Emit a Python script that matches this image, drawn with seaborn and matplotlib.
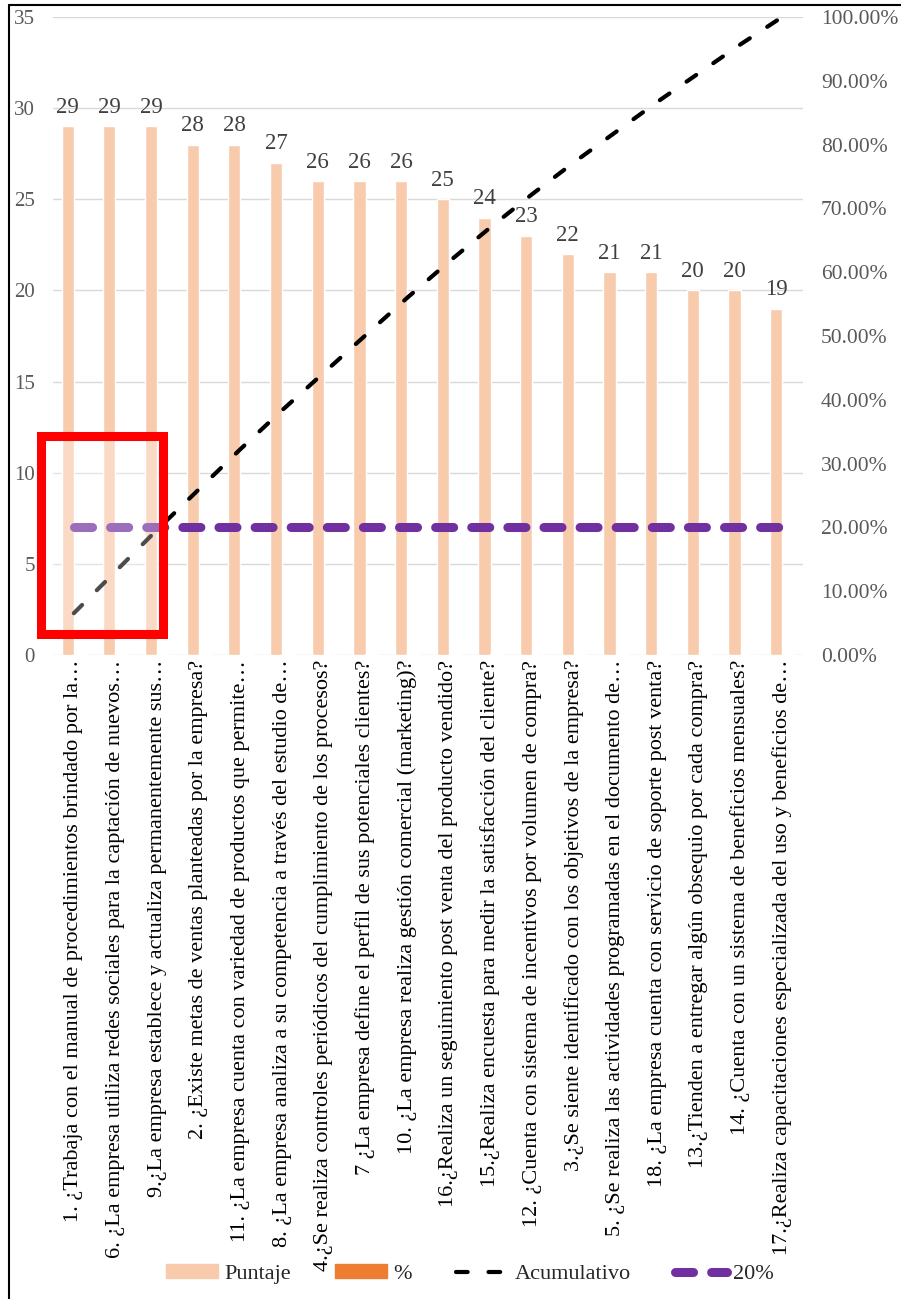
import numpy as np
import pandas as pd
import matplotlib
matplotlib.use("Agg")
import matplotlib.pyplot as plt
import matplotlib.patches as mpatches
from matplotlib.lines import Line2D
from matplotlib.ticker import FuncFormatter
import seaborn as sns

# ---------------- data ----------------
categories = [
    "1. ¿Trabaja con el manual de procedimientos brindado por la…",
    "6. ¿La empresa utiliza redes sociales para la captación de nuevos…",
    "9.¿La empresa establece y actualiza permanentemente sus…",
    "2. ¿Existe metas de ventas planteadas por la empresa?",
    "11. ¿La empresa cuenta con variedad de productos que permite…",
    "8. ¿La empresa analiza a su competencia a través del estudio de…",
    "4.¿Se realiza controles periódicos del cumplimiento de los procesos?",
    "7 ¿La empresa define el perfil de sus potenciales clientes?",
    "10. ¿La empresa realiza gestión comercial (marketing)?",
    "16.¿Realiza un seguimiento post venta del producto vendido?",
    "15.¿Realiza encuesta para medir la satisfacción del cliente?",
    "12. ¿Cuenta con sistema de incentivos por volumen de compra?",
    "3.¿Se siente identificado con los objetivos de la empresa?",
    "5. ¿Se realiza las actividades programadas en el documento de…",
    "18. ¿La empresa cuenta con servicio de soporte post venta?",
    "13.¿Tienden a entregar algún obsequio por cada compra?",
    "14. ¿Cuenta con un sistema de beneficios mensuales?",
    "17.¿Realiza capacitaciones especializada del uso y beneficios de…",
]
puntaje = [29, 29, 29, 28, 28, 27, 26, 26, 26, 25, 24, 23, 22, 21, 21, 20, 20, 19]
porcentaje = [0.0655, 0.0655, 0.0655, 0.0632, 0.0632, 0.0609, 0.0587, 0.0587, 0.0587,
              0.0564, 0.0542, 0.0519, 0.0497, 0.0474, 0.0474, 0.0451, 0.0451, 0.0429]
acumulativo = [0.0655, 0.1309, 0.1964, 0.2596, 0.3228, 0.3837, 0.4424, 0.5011, 0.5598,
               0.6163, 0.6704, 0.7223, 0.7720, 0.8194, 0.8668, 0.9120, 0.9571, 1.0000]
veinte = [0.20] * 18
series_names = ["Puntaje", "%", "Acumulativo", "20%"]
y_ticks_left = [0, 5, 10, 15, 20, 25, 30, 35]
y_ticks_right = [0.0, 0.1, 0.2, 0.3, 0.4, 0.5, 0.6, 0.7, 0.8, 0.9, 1.0]

PEACH = "#F8CBAD"
ORANGE = "#ED7D31"
PURPLE = "#7030A0"
GRID = "#D9D9D9"
TICKC = "#595959"

sns.set_style("white")
plt.rcParams['font.family'] = ['Liberation Serif', 'DejaVu Serif']

W, H = 901, 1299
fig = plt.figure(figsize=(W / 100, H / 100), dpi=100)
ax = fig.add_axes([53 / W, 1 - 655 / H, 750 / W, 638 / H])

df = pd.DataFrame({
    "pregunta": categories * 2,
    "serie": [series_names[0]] * len(categories) + [series_names[1]] * len(categories),
    "valor": puntaje + porcentaje,
})
sns.barplot(data=df, x="pregunta", y="valor", hue="serie", order=categories,
            hue_order=series_names[:2], palette={series_names[0]: PEACH, series_names[1]: ORANGE},
            width=0.58, saturation=1, legend=False, ax=ax, zorder=2, errorbar=None)

ax.set_xlim(-0.5, len(categories) - 0.5)
ax.set_ylim(0, 35)
ax.set_yticks(y_ticks_left)
ax.yaxis.grid(True, color=GRID, lw=1.0)
ax.xaxis.grid(False)
ax.set_axisbelow(True)
for s in ax.spines.values():
    s.set_visible(False)
ax.set_xlabel("")
ax.set_ylabel("")
ax.set_xticks(range(len(categories)))
ax.set_xticklabels(categories, rotation=90, ha="center", va="top")
ax.tick_params(axis="y", length=0, pad=13, labelsize=15, labelcolor=TICKC)
ax.tick_params(axis="x", length=0, pad=3.5, labelsize=16, labelcolor="black")

ax.bar_label(ax.containers[0], labels=[str(v) for v in puntaje], padding=6,
             fontsize=16.5, color="#404040")

ax2 = ax.twinx()
ax2.set_ylim(0, 1)
ax2.set_yticks(y_ticks_right)
ax2.yaxis.set_major_formatter(FuncFormatter(lambda v, p: f"{v * 100:.2f}%"))
ax2.tick_params(axis="y", length=0, pad=13, labelsize=15.5, labelcolor=TICKC)
for s in ax2.spines.values():
    s.set_visible(False)

pos = np.arange(len(categories))
sns.lineplot(x=pos, y=acumulativo, ax=ax2, color="black", lw=3.0, zorder=3)
line_acu = ax2.lines[-1]
line_acu.set_linestyle((0, (2.8, 5.0)))
line_acu.set_dash_capstyle("round")

sns.lineplot(x=pos, y=veinte, ax=ax2, color=PURPLE, lw=6.5, zorder=3)
line_20 = ax2.lines[-1]
line_20.set_linestyle((0, (2.0, 2.0)))
line_20.set_dash_capstyle("round")
ax2.set_xlim(-0.5, len(categories) - 0.5)
ax2.set_ylabel("")

# highlight box
box = mpatches.Rectangle((-0.78, 1.15), 2.92, 10.85, transform=ax.transData,
                         facecolor=(1, 1, 1, 0.3), edgecolor="#FF0000", lw=6.5,
                         zorder=10, clip_on=False)
ax2.add_patch(box)

# legend
handles = [mpatches.Patch(color=PEACH), mpatches.Patch(color=ORANGE), line_acu, line_20]
fig.legend(handles, series_names, loc="center", bbox_to_anchor=(470 / W, 1 - 1274 / H),
           ncol=4, frameon=False, fontsize=16, handlelength=2.35, handleheight=0.55,
           handletextpad=0.27, columnspacing=2.0)

# figure border lines (left and top)
fig.add_artist(Line2D([9 / W, 9 / W], [0, 1 - 4.5 / H], transform=fig.transFigure,
                      color="black", lw=1.5))
fig.add_artist(Line2D([9 / W, 1], [1 - 4.5 / H, 1 - 4.5 / H], transform=fig.transFigure,
                      color="black", lw=1.5))

fig.savefig("out.png", dpi=100)
